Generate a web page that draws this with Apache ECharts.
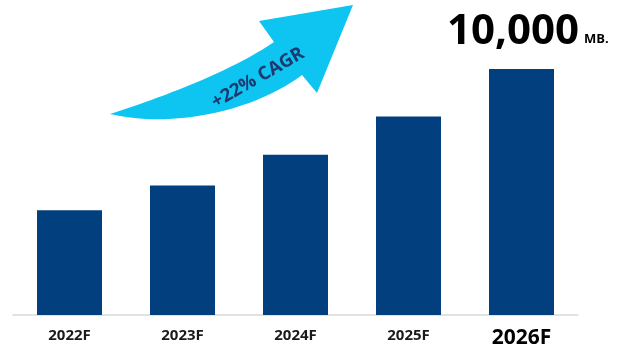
<!DOCTYPE html>
<html>
<head>
<meta charset="utf-8">
<script src="https://cdn.jsdelivr.net/npm/echarts@6/dist/echarts.min.js"></script>
<style>html,body{margin:0;padding:0;background:#fff}#c{width:619px;height:349px}</style>
</head>
<body>
<div id="c"></div>
<script>
const categories = ['2022F', '2023F', '2024F', '2025F', '2026F'];
const values = [4260, 5260, 6510, 8070, 10000];
const headline = '10,000';
const unit = 'MB.';
const cagrText = '+22% CAGR';

function cubic(p0, p1, p2, p3, n) {
  const pts = [];
  for (let i = 0; i <= n; i++) {
    const t = i / n, u = 1 - t;
    pts.push([
      u*u*u*p0[0] + 3*u*u*t*p1[0] + 3*u*t*t*p2[0] + t*t*t*p3[0],
      u*u*u*p0[1] + 3*u*u*t*p1[1] + 3*u*t*t*p2[1] + t*t*t*p3[1]
    ]);
  }
  return pts;
}
const arrowPts = []
  .concat(cubic([110,114],[160,98],[230,72],[274,42],24))
  .concat([[259,21],[353,5],[317,93]])
  .concat(cubic([302,75],[260,107],[180,130],[110,114],24));

const chart = echarts.init(document.getElementById('c'), null, {renderer: 'canvas'});
const last = categories.length - 1;
chart.setOption({
  animation: false,
  grid: {left: 13, right: 41, top: 69, bottom: 31},
  xAxis: {
    type: 'category',
    data: categories.map((c, i) => i === last
      ? {value: c, textStyle: {fontSize: 21, color: '#000', fontWeight: 'bold'}}
      : c),
    axisLine: {lineStyle: {color: '#d9d9d9', width: 1.5}},
    axisTick: {show: false},
    axisLabel: {fontFamily: 'Open Sans', fontWeight: 'bold', fontSize: 15, color: '#1a1a1a', margin: 13}
  },
  yAxis: {type: 'value', min: 0, max: 10000, show: false, splitLine: {show: false}},
  series: [{
    type: 'bar',
    data: values,
    barWidth: 65,
    itemStyle: {color: '#023F7E'}
  }],
  graphic: [
    {
      type: 'polygon',
      shape: {points: arrowPts},
      style: {fill: '#0DC5F0'}
    },
    {
      type: 'text',
      x: 258, y: 78, rotation: 30 * Math.PI / 180,
      style: {text: cagrText, fontFamily: 'Open Sans', fontWeight: 'bold', fontSize: 18.5,
              fill: '#1B3A72', align: 'center', verticalAlign: 'middle'}
    },
    {
      type: 'text',
      x: 579, y: 53,
      style: {text: headline, fontFamily: 'Open Sans', fontWeight: 'bold', fontSize: 42,
              fill: '#000', align: 'right', verticalAlign: 'bottom'}
    },
    {
      type: 'text',
      x: 584, y: 46,
      style: {text: unit, fontFamily: 'Open Sans', fontWeight: 'bold', fontSize: 13,
              fill: '#000', align: 'left', verticalAlign: 'bottom'}
    }
  ]
});
</script>
</body>
</html>
